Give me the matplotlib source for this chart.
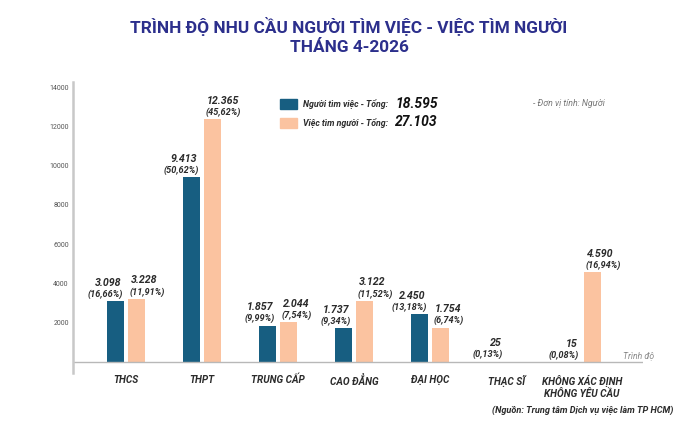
import matplotlib
matplotlib.use("Agg")
import matplotlib.pyplot as plt
import numpy as np

categories = ["THCS", "THPT", "TRUNG CẤP", "CAO ĐẲNG", "ĐẠI HỌC", "THẠC SĨ", "KHÔNG XÁC ĐỊNH\nKHÔNG YÊU CẦU"]
seekers = [3098, 9413, 1857, 1737, 2450, 25, 15]
seekers_lbl = ["3.098", "9.413", "1.857", "1.737", "2.450", "25", "15"]
seekers_pct = ["(16,66%)", "(50,62%)", "(9,99%)", "(9,34%)", "(13,18%)", "(0,13%)", "(0,08%)"]
jobs = [3228, 12365, 2044, 3122, 1754, 0, 4590]
jobs_lbl = ["3.228", "12.365", "2.044", "3.122", "1.754", None, "4.590"]
jobs_pct = ["(11,91%)", "(45,62%)", "(7,54%)", "(11,52%)", "(6,74%)", None, "(16,94%)"]
yticks = [2000, 4000, 6000, 8000, 10000, 12000, 14000]
series_names = ["Người tìm việc - Tổng: ", "Việc tìm người - Tổng: "]
series_totals = ["18.595", "27.103"]

BLUE = "#175e81"
ORANGE = "#fbc3a0"
DARK = "#2b2b2b"
TITLE_C = "#2c2f8c"
FONT = ["Roboto", "DejaVu Sans"]

plt.rcParams["font.family"] = FONT

fig = plt.figure(figsize=(6.98, 4.36), dpi=100)
ax = fig.add_axes([73/698, 1-373/436, 570/698, 291/436])

x = np.arange(len(categories))
w = 0.225
off = 0.14
ax.bar(x - off, seekers, width=w, color=BLUE, edgecolor="none")
ax.bar(x + off, jobs, width=w, color=ORANGE, edgecolor="none")

ax.set_xlim(-0.697, 6.80)
ax.set_ylim(-560, 14255)
ax.axhline(0, color="#b8b8b8", lw=1.0)

for s in ["top", "right", "bottom"]:
    ax.spines[s].set_visible(False)
ax.spines["left"].set_color("#c8c8c8")
ax.spines["left"].set_linewidth(1.8)
ax.set_yticks(yticks)
ax.set_yticklabels([str(v) for v in yticks], fontsize=5, color="#555555")
ax.tick_params(axis="y", length=0, pad=3)
ax.set_xticks([])

BI = dict(style="italic", fontweight="bold", color=DARK)
for i in range(len(categories)):
    xr = x[i] - off + w/2
    ax.annotate(seekers_pct[i], (xr, seekers[i]), xytext=(-1, 1.5), textcoords="offset points",
                ha="right", va="bottom", fontsize=6.6, **BI)
    ax.annotate(seekers_lbl[i], (xr, seekers[i]), xytext=(-2, 9.5), textcoords="offset points",
                ha="right", va="bottom", fontsize=7.7, **BI)
    if jobs_lbl[i] is not None:
        xl = x[i] + off - w/2
        ax.annotate(jobs_pct[i], (xl, jobs[i]), xytext=(1, 1.5), textcoords="offset points",
                    ha="left", va="bottom", fontsize=6.6, **BI)
        ax.annotate(jobs_lbl[i], (xl, jobs[i]), xytext=(2, 9.5), textcoords="offset points",
                    ha="left", va="bottom", fontsize=7.7, **BI)
    ax.text(x[i], -640, categories[i], ha="center", va="top", fontsize=7.2,
            linespacing=1.3, **BI)

fig.text(623/698, 1-356/436, "Trình độ", ha="left", va="center", fontsize=6.2, style="italic",
         color="#888888")

# Title
fig.text(0.5, 1-27/436, "TRÌNH ĐỘ NHU CẦU NGƯỜI TÌM VIỆC - VIỆC TÌM NGƯỜI", ha="center", va="center",
         fontsize=12.4, fontweight="bold", color=TITLE_C)
fig.text(0.5, 1-47/436, "THÁNG 4-2026", ha="center", va="center",
         fontsize=12.4, fontweight="bold", color=TITLE_C)

# Legend
colors = [BLUE, ORANGE]
ys = [104, 123]
for c, yy, nm, tot in zip(colors, ys, series_names, series_totals):
    fig.patches.append(plt.Rectangle((280/698, 1-(yy+5)/436), 17/698, 10/436, color=c,
                                     transform=fig.transFigure, figure=fig))
    fig.text(303/698, 1-yy/436, nm, ha="left", va="center", fontsize=6.3, style="italic",
             fontweight="bold", color=DARK)
    fig.text(395/698, 1-(yy-0.5)/436, tot, ha="left", va="center", fontsize=10, style="italic",
             fontweight="bold", color="#111111")

fig.text(533/698, 1-104/436, "- Đơn vị tính: Người", ha="left", va="center", fontsize=6.3,
         style="italic", color="#777777")

fig.text(673/698, 1-410/436, "(Nguồn: Trung tâm Dịch vụ việc làm TP HCM)", ha="right", va="center",
         fontsize=6.6, **BI)

fig.savefig("out.png", dpi=100)
